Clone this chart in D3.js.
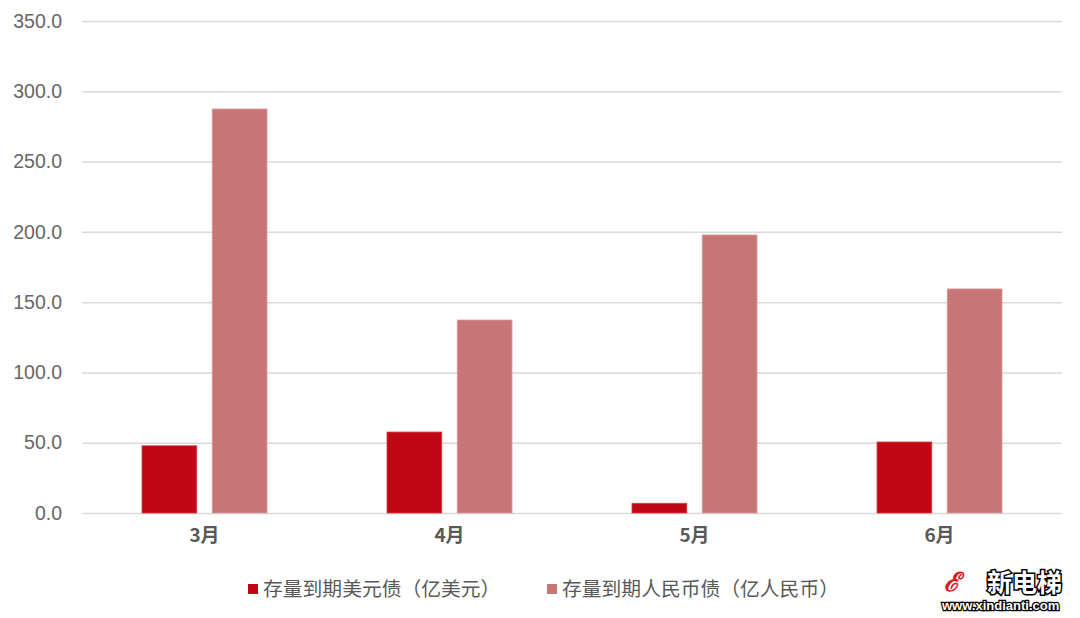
<!DOCTYPE html>
<html><head><meta charset="utf-8">
<script src="https://cdn.jsdelivr.net/npm/d3@7"></script>
<style>body{margin:0;background:#fff}svg{display:block}</style>
</head><body><svg id="c" width="1080" height="618"></svg>
<script>
const categories = ["3月","4月","5月","6月"];
const seriesNames = ["存量到期美元债（亿美元）","存量到期人民币债（亿人民币）"];
const usdValues = [47.8, 57.6, 6.9, 50.5];
const rmbValues = [287.4, 137.3, 197.8, 159.4];
const yTicks = [0,50,100,150,200,250,300,350];
const colors = ["#C00815","#C87575"];

const svg = d3.select("#c");
const mLeft = 82, mRight = 1062, mTop = 21, mBottom = 513;
const font = "'Noto Sans CJK SC', 'Liberation Sans', sans-serif";
const numFont = "'Liberation Sans', 'Noto Sans', sans-serif";

const y = d3.scaleLinear().domain([0,350]).range([mBottom, mTop]);
const x0 = d3.scaleBand().domain(categories).range([mLeft, mRight]).paddingInner(0).paddingOuter(0);
const x1 = d3.scaleBand().domain([0,1]).range([60, x0.bandwidth()-60]).paddingInner(0.22);

// grid
const yAxis = d3.axisLeft(y).tickValues(yTicks).tickFormat(d3.format(".1f")).tickSize(-(mRight-mLeft)).tickPadding(20);
const g = svg.append("g").attr("transform",`translate(${mLeft},0)`).call(yAxis);
g.select(".domain").remove();
g.selectAll(".tick line").attr("stroke","#D9D9D9").attr("stroke-width",1.5);
g.selectAll(".tick text").attr("fill","#666").attr("font-size",19.5).attr("font-family",numFont).attr("x",-20);

const data = categories.map((c,i)=>({c, v:[usdValues[i], rmbValues[i]]}));
const grp = svg.append("g").selectAll("g").data(data).join("g")
  .attr("transform",d=>`translate(${x0(d.c)},0)`);
grp.selectAll("rect").data(d=>d.v.map((v,k)=>({v,k}))).join("rect")
  .attr("x",d=>x1(d.k)).attr("width",x1.bandwidth())
  .attr("y",d=>y(d.v)).attr("height",d=>y(0)-y(d.v))
  .attr("fill",d=>colors[d.k])
  .attr("stroke",d=>d.k===0?"#D83A44":"#D99A9A").attr("stroke-width",0.8);

// x labels
const xAxis = d3.axisBottom(x0).tickSize(0).tickPadding(16);
const gx = svg.append("g").attr("transform",`translate(0,${mBottom})`).call(xAxis);
gx.select(".domain").remove();
gx.selectAll("text").attr("fill","#595959").attr("font-size",19).attr("font-weight","bold").attr("font-family",font);

// legend
const legX = [248, 547];
const leg = svg.append("g").selectAll("g").data(seriesNames).join("g")
  .attr("transform",(d,i)=>`translate(${legX[i]},0)`);
leg.append("rect").attr("x",0).attr("y",584).attr("width",10).attr("height",10).attr("fill",(d,i)=>colors[i]);
leg.append("text").attr("x",15).attr("y",596).text(d=>d)
  .attr("fill","#595959").attr("font-size",19.8).attr("font-family",font);

// watermark
const wm = svg.append("g");
wm.append("text").attr("x",944).attr("y",591).text("ℰ").attr("fill","#E0141E").attr("font-size",26).attr("font-style","italic").attr("font-family",font).attr("font-weight","bold");
wm.append("text").attr("x",987).attr("y",592).text("新电梯").attr("fill","#fff").attr("stroke","#000").attr("stroke-width",3).attr("paint-order","stroke").attr("font-size",25).attr("font-weight","bold").attr("font-family",font);
wm.append("text").attr("x",942).attr("y",610).text("www.xindianti.com").attr("fill","#fff").attr("stroke","#000").attr("stroke-width",2.5).attr("paint-order","stroke").attr("font-size",13).attr("font-weight","bold").attr("font-family","'Liberation Sans', sans-serif");
</script></body></html>
